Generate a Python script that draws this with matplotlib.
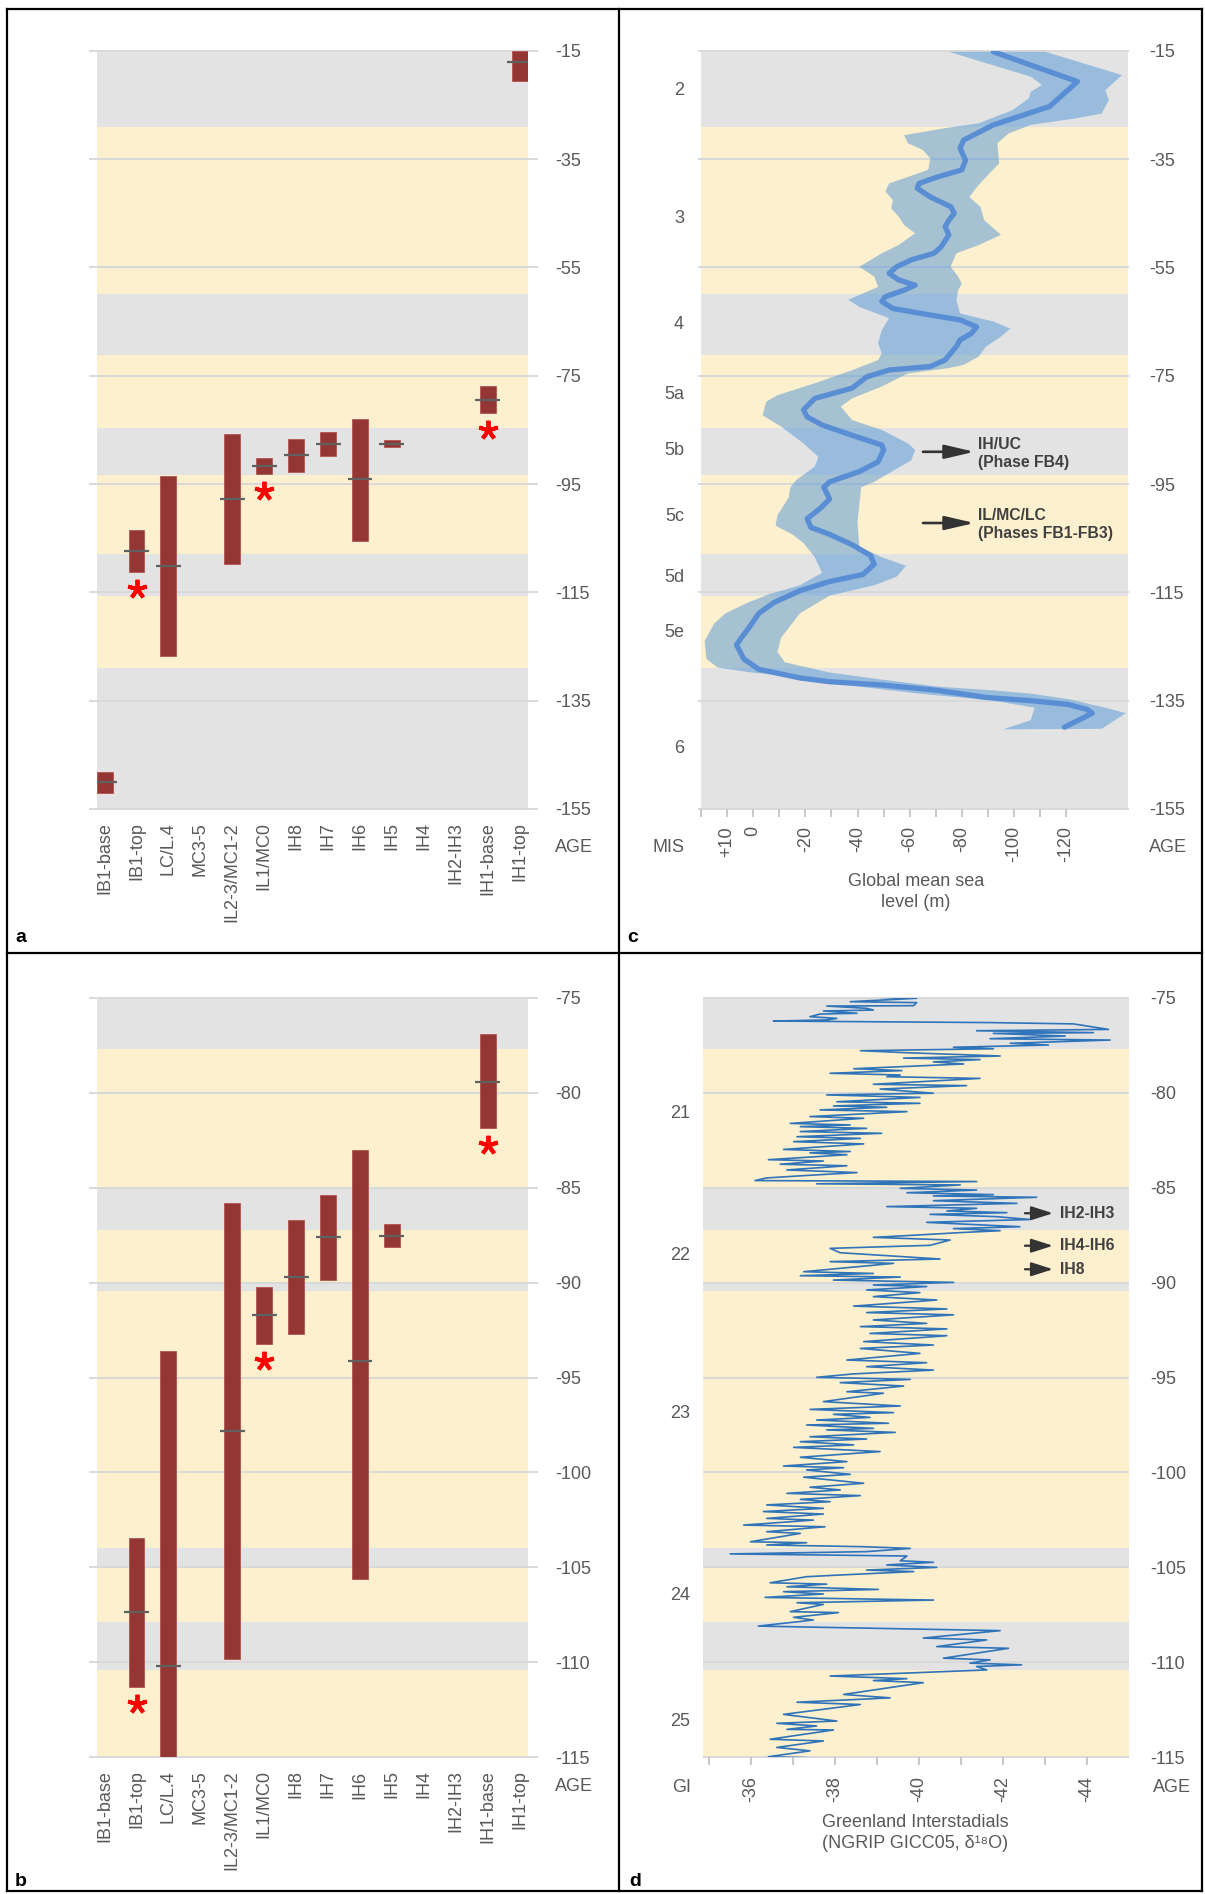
import matplotlib
matplotlib.use("Agg")
import matplotlib.pyplot as plt
import matplotlib.transforms as mtransforms
from matplotlib.lines import Line2D
import numpy as np

plt.rcParams['font.family'] = ['Liberation Sans', 'DejaVu Sans']

W, H = 1205, 1894
GRAY = "#E4E3E4"
CREAM = "#FDF0CE"
GRID = "#D9D9D9"
TXT = "#595959"
DARK = "#404040"
BAR = "#943634"

# ---- panels a / b : dated units (ka) ----
categories = ['IB1-base', 'IB1-top', 'LC/L.4', 'MC3-5', 'IL2-3/MC1-2', 'IL1/MC0', 'IH8',
              'IH7', 'IH6', 'IH5', 'IH4', 'IH2-IH3', 'IH1-base', 'IH1-top']
age_young = [-148.1, -103.45, -93.6, np.nan, -85.8, -90.22, -86.68, -85.4, -83.04, -86.93,
             np.nan, np.nan, -76.93, -15.0]
age_old = [-152.1, -111.28, -126.8, np.nan, -109.8, -93.24, -92.7, -89.85, -105.6, -88.15,
           np.nan, np.nan, -81.87, -20.6]
age_mid = [-150.1, -107.36, -110.2, np.nan, -97.82, -91.73, -89.69, -87.62, -94.14, -87.55,
           np.nan, np.nan, -79.42, -17.15]
flagged = [False, True, False, False, False, True, False, False, False, False,
           False, False, True, False]

# background stages (alternating grey / cream, starting grey)
mis_edges = [-15, -29.0, -60.0, -71.1, -84.6, -93.25, -107.9, -115.7, -129.0, -155]
gi_edges = [-75, -77.7, -85.0, -87.25, -89.95, -90.45, -104.0, -105.0, -107.9, -110.4, -115]

# ---- panel c : global mean sea level ----
mis_labels = ['2', '3', '4', '5a', '5b', '5c', '5d', '5e', '6']
mis_label_age = [-22.4, -45.9, -65.6, -78.4, -88.9, -101.0, -112.2, -122.4, -143.9]

sl_age = [-15.2, -20.7, -25.3, -28.7, -31.5, -33.0, -35.2, -37.0, -38.3, -39.5,
          -40.4, -42.0, -43.8, -45.0, -46.3, -47.5, -49.0, -51.2, -52.4, -53.6,
          -54.9, -56.1, -57.3, -58.3, -59.2, -60.4, -61.3, -62.6, -63.8, -64.7,
          -66.0, -67.2, -68.4, -69.6, -72.1, -73.3, -73.95, -75.2, -77.3, -79.2,
          -81.3, -82.6, -84.1, -86.0, -87.8, -88.7, -90.9, -92.7, -94.6, -95.6,
          -97.8, -99.5, -101.4, -103.0, -104.3, -106.2, -108.2, -109.8, -111.7, -113.0,
          -114.7, -116.9, -118.9, -121.4, -123.7, -124.7, -127.3, -129.2, -130.8, -131.5,
          -132.1, -133.1, -134.4, -135.0, -135.7, -136.6, -137.3, -138.2, -139.9]
sl_mean = [-92.1, -124.3, -113.6, -92.1, -80.7, -79.3, -81.4, -80.0, -70.7, -63.6,
           -62.9, -67.9, -75.7, -77.1, -75.0, -73.6, -75.0, -72.1, -69.3, -60.7,
           -55.0, -52.1, -55.7, -62.1, -57.9, -50.7, -49.3, -53.6, -67.9, -79.3,
           -85.7, -83.6, -79.3, -77.9, -73.6, -67.9, -52.1, -43.6, -37.9, -23.6,
           -19.3, -20.7, -26.4, -37.9, -49.3, -50.0, -47.9, -40.7, -29.3, -27.1,
           -29.3, -25.7, -20.7, -22.1, -29.3, -37.9, -45.0, -46.4, -42.1, -29.3,
           -17.9, -7.9, -2.1, 1.4, 5.0, 6.4, 3.6, -2.1, -17.9, -29.3,
           -49.3, -70.7, -89.3, -106.4, -120.7, -127.9, -130.0, -126.4, -119.3]

env_hi_age = [-15.2, -19.8, -21.3, -22.6, -23.8, -26.0, -28.4, -29.3, -30.6, -32.1,
              -33.3, -34.9, -37.0, -38.3, -39.5, -41.0, -42.6, -44.1, -45.6, -47.2,
              -48.7, -50.9, -52.4, -54.9, -56.7, -58.6, -59.8, -61.0, -62.3, -64.4,
              -66.6, -69.0, -70.9, -72.1, -74.0, -76.4, -78.6, -79.8, -82.3, -84.4,
              -87.5, -90.0, -91.8, -94.3, -95.6, -97.5, -100.8, -102.7, -104.3, -105.9,
              -108.5, -111.4, -113.7, -115.3, -116.9, -118.9, -120.8, -124.0, -127.3, -128.9,
              -129.8, -130.8, -132.1, -133.7, -135.0, -136.3, -138.6, -140.3]
env_hi_sl = [-75.0, -106.4, -110.7, -106.4, -105.7, -99.3, -86.4, -73.6, -57.9, -59.3,
             -65.0, -67.9, -67.1, -59.3, -52.1, -50.7, -53.6, -52.9, -55.7, -57.9,
             -62.1, -55.7, -49.3, -40.7, -46.4, -47.9, -42.1, -36.4, -40.7, -52.1,
             -49.3, -47.9, -49.3, -47.9, -37.9, -23.6, -9.3, -5.0, -3.6, -10.7,
             -19.3, -25.0, -23.6, -16.4, -14.3, -13.6, -9.3, -8.6, -15.0, -19.3,
             -23.6, -26.4, -17.9, -6.4, 2.1, 10.7, 15.0, 18.6, 17.9, 13.6,
             0.7, -20.7, -35.0, -63.6, -92.1, -107.9, -106.4, -95.7]
env_lo_age = [-15.2, -19.5, -22.3, -24.1, -26.6, -27.5, -28.7, -30.3, -32.1, -35.8,
              -37.6, -39.8, -42.0, -43.8, -46.3, -49.0, -50.9, -52.4, -54.9, -56.7,
              -58.0, -59.2, -61.0, -63.5, -65.0, -66.3, -67.8, -69.6, -71.5, -73.0,
              -73.6, -74.6, -77.0, -79.2, -80.7, -83.2, -85.0, -87.5, -88.7, -90.6,
              -93.0, -94.6, -95.6, -98.8, -102.0, -106.6, -108.5, -110.1, -112.1, -113.7,
              -115.6, -118.9, -123.4, -126.0, -127.9, -129.8, -131.1, -132.4, -133.1, -133.7,
              -134.7, -136.3, -137.3, -140.2]
env_lo_sl = [-112.1, -141.4, -135.0, -136.4, -133.6, -123.6, -106.4, -97.9, -93.6, -94.3,
             -90.7, -86.4, -82.9, -87.1, -88.6, -95.0, -86.4, -77.9, -75.7, -78.6,
             -80.0, -78.6, -77.9, -79.3, -92.1, -98.6, -95.0, -89.3, -86.4, -80.7,
             -75.0, -59.3, -49.3, -37.9, -33.6, -37.9, -49.3, -59.3, -62.1, -60.7,
             -52.1, -46.4, -41.4, -40.7, -40.0, -40.7, -49.3, -58.6, -55.0, -46.4,
             -29.3, -17.9, -10.7, -9.3, -12.1, -29.3, -49.3, -70.7, -92.1, -106.4,
             -120.7, -135.0, -142.9, -133.6]

sl_ticks = [20, 10, 0, -10, -20, -30, -40, -50, -60, -70, -80, -90, -100, -110, -120]
sl_ticklabels = ['', '+10', '0', '', '-20', '', '-40', '', '-60', '', '-80', '', '-100', '', '-120']

# ---- panel d : NGRIP d18O ----
gi_labels = ['21', '22', '23', '24', '25']
gi_label_age = [-81.1, -88.6, -96.9, -106.5, -113.1]

gi_age = [-74.91, -74.98, -75.03, -75.21, -75.26, -75.42, -75.44, -75.56, -75.65, -75.70,
          -75.82, -75.86, -76.00, -76.09, -76.17, -76.23, -76.31, -76.38, -76.67, -76.74,
          -76.84, -76.88, -77.02, -77.16, -77.23, -77.40, -77.49, -77.61, -77.69, -77.79,
          -77.89, -78.07, -78.18, -78.26, -78.38, -78.49, -78.74, -78.84, -78.98, -79.07,
          -79.16, -79.25, -79.56, -79.63, -79.81, -80.03, -80.12, -80.25, -80.48, -80.56,
          -80.70, -80.77, -80.91, -81.00, -81.26, -81.35, -81.62, -81.70, -81.79, -81.88,
          -82.05, -82.14, -82.32, -82.41, -82.58, -82.70, -82.99, -83.10, -83.17, -83.27,
          -83.53, -83.60, -83.77, -83.85, -84.07, -84.21, -84.35, -84.49, -84.63, -84.68,
          -84.80, -84.86, -85.04, -85.13, -85.27, -85.37, -85.44, -85.51, -85.69, -85.83,
          -86.00, -86.09, -86.23, -86.32, -86.41, -86.53, -86.68, -86.83, -87.06, -87.16,
          -87.27, -87.37, -87.50, -87.62, -87.76, -88.04, -88.20, -88.43, -88.76, -88.90,
          -88.99, -89.43, -89.52, -89.64, -89.71, -89.87, -89.99, -90.13, -90.21, -90.39,
          -90.53, -90.74, -90.92, -91.24, -91.39, -91.58, -91.70, -91.97, -92.15, -92.32,
          -92.44, -92.68, -92.80, -93.11, -93.29, -93.47, -93.73, -94.08, -94.22, -94.43,
          -94.61, -94.81, -94.99, -95.10, -95.27, -95.45, -95.75, -95.83, -96.27, -96.50,
          -96.68, -96.85, -96.94, -97.10, -97.24, -97.41, -97.50, -97.68, -97.76, -97.89,
          -98.12, -98.24, -98.38, -98.55, -98.68, -98.90, -99.20, -99.43, -99.66, -99.75,
          -99.87, -100.10, -100.25, -100.57, -100.78, -100.92, -101.10, -101.22, -101.42, -101.54,
          -101.71, -101.89, -102.06, -102.19, -102.42, -102.51, -102.77, -102.86, -103.12, -103.21,
          -103.65, -103.70, -103.82, -103.91, -104.00, -104.17, -104.29, -104.40, -104.65, -104.73,
          -104.87, -105.00, -105.14, -105.22, -105.40, -105.49, -105.81, -105.88, -106.02, -106.16,
          -106.28, -106.40, -106.58, -106.72, -106.86, -106.95, -107.33, -107.38, -107.63, -107.77,
          -108.09, -108.14, -108.26, -108.33, -108.72, -108.82, -109.17, -109.26, -109.78, -109.87,
          -110.04, -110.13, -110.22, -110.40, -110.72, -110.86, -110.96, -111.07, -111.69, -111.87,
          -112.10, -112.22, -112.74, -113.09, -113.21, -113.35, -113.53, -113.56, -114.05, -114.14,
          -114.48, -114.66, -114.97, -115.04]
gi_d18o = [-39.72, -39.08, -39.95, -38.37, -39.95, -39.88, -37.81, -38.76, -38.92, -37.73,
           -38.53, -37.65, -37.41, -38.05, -37.81, -36.54, -41.70, -43.69, -44.52, -41.38,
           -44.16, -41.78, -43.49, -41.70, -44.56, -42.18, -43.09, -40.83, -41.78, -38.61,
           -39.64, -41.94, -39.64, -41.46, -40.35, -41.07, -38.45, -39.60, -37.89, -39.56,
           -39.24, -41.46, -38.92, -41.14, -39.08, -40.35, -37.81, -40.03, -38.05, -40.03,
           -37.97, -39.24, -37.65, -39.72, -37.41, -38.69, -36.94, -38.37, -37.18, -38.76,
           -37.18, -39.12, -37.10, -38.61, -37.02, -38.69, -36.78, -38.37, -37.41, -38.29,
           -36.42, -37.73, -36.70, -38.29, -36.86, -38.53, -37.41, -36.38, -36.10, -41.38,
           -37.57, -40.99, -39.56, -41.38, -39.72, -41.78, -40.35, -42.81, -40.35, -42.34,
           -39.24, -41.38, -40.67, -42.10, -40.27, -41.86, -42.65, -40.19, -42.41, -40.83,
           -41.94, -40.99, -39.95, -38.92, -40.75, -40.27, -37.89, -38.13, -40.51, -37.89,
           -39.40, -37.26, -38.92, -37.18, -39.56, -37.97, -40.83, -38.92, -40.19, -38.76,
           -40.03, -38.92, -40.43, -38.45, -40.67, -38.76, -40.83, -38.92, -40.19, -38.61,
           -40.67, -38.84, -40.67, -38.69, -40.35, -38.61, -40.03, -38.29, -40.19, -38.76,
           -40.35, -38.45, -37.57, -39.80, -38.13, -39.64, -38.29, -39.16, -37.73, -39.56,
           -37.41, -39.40, -37.97, -38.84, -37.57, -39.28, -37.33, -38.92, -37.81, -39.44,
           -37.41, -38.76, -37.18, -38.45, -37.02, -39.08, -37.18, -38.29, -36.78, -38.21,
           -37.33, -38.37, -37.26, -38.69, -37.41, -38.13, -36.86, -38.61, -37.18, -37.89,
           -36.38, -37.73, -36.30, -37.73, -36.38, -37.49, -35.83, -37.77, -36.38, -37.18,
           -35.99, -37.33, -36.38, -38.69, -39.80, -38.76, -35.51, -39.72, -39.56, -40.35,
           -39.24, -40.43, -38.76, -39.88, -38.13, -37.33, -36.46, -37.81, -36.86, -39.04,
           -36.78, -37.73, -36.34, -40.35, -37.10, -37.73, -36.94, -38.09, -37.02, -37.49,
           -36.18, -37.33, -40.27, -41.94, -40.11, -41.62, -40.43, -42.14, -40.59, -41.70,
           -41.22, -42.45, -41.38, -41.62, -37.89, -39.72, -38.92, -40.11, -38.21, -39.32,
           -37.10, -38.61, -36.78, -38.05, -36.62, -37.57, -36.86, -37.97, -36.46, -37.73,
           -36.62, -37.41, -36.42, -37.65]


def px_rect(left, right, top, bottom):
    return [left / W, 1 - bottom / H, (right - left) / W, (bottom - top) / H]


def fig_text(fig, x, y, s, **kw):
    fig.text(x / W, 1 - y / H, s, **kw)


def draw_background(ax, edges, yticks, grid_ext, label_pad):
    for i in range(len(edges) - 1):
        ax.axhspan(edges[i + 1], edges[i], color=GRAY if i % 2 == 0 else CREAM, lw=0, zorder=0)
    trans = mtransforms.blended_transform_factory(ax.transAxes, ax.transData)
    for y in yticks:
        ax.plot([grid_ext[0], grid_ext[1]], [y, y], transform=trans, color=GRID, lw=1.4,
                zorder=1, clip_on=False, solid_capstyle='butt')
    ax.set_ylim(edges[-1], edges[0])
    ax.set_yticks(yticks)
    ax.set_yticklabels([str(t) for t in yticks])
    ax.yaxis.tick_right()
    ax.tick_params(axis='y', length=0, pad=label_pad, labelsize=13, labelcolor=TXT)
    for s in ax.spines.values():
        s.set_visible(False)
    ax.set_facecolor('none')


def draw_units(ax, fig):
    x = np.arange(len(categories))
    young = np.array(age_young)
    old = np.array(age_old)
    ax.bar(x, young - old, bottom=old, width=0.5, color=BAR, edgecolor='#B4534F',
           lw=0.6, zorder=2)
    ax.hlines(age_mid, x - 0.39, x + 0.39, color='#606060', lw=1.6, zorder=3)
    ax.set_xlim(-0.25, len(categories) - 0.75)
    ax.set_xticks(x)
    ax.set_xticklabels(categories, rotation=90)
    ax.tick_params(axis='x', length=0, pad=9.5, labelsize=13, labelcolor=TXT)
    star = mtransforms.offset_copy(ax.transData, fig=fig, x=0, y=-17, units='dots')
    for xi, o, f in zip(x, old, flagged):
        if f:
            ax.plot(xi, o, marker=(5, 2, 0), ms=14, mew=2.8, color='#FF0000',
                    transform=star, zorder=4, clip_on=False)


fig = plt.figure(figsize=(W / 100, H / 100), dpi=100)

# panel a
ax_a = fig.add_axes(px_rect(96.6, 527.6, 50.7, 809.0))
draw_background(ax_a, mis_edges, list(range(-15, -156, -20)), (-0.0176, 1.024), 20)
draw_units(ax_a, fig)

# panel b
ax_b = fig.add_axes(px_rect(96.6, 527.6, 997.7, 1757.3))
draw_background(ax_b, gi_edges, list(range(-75, -116, -5)), (-0.0176, 1.024), 20)
draw_units(ax_b, fig)

# panel c
ax_c = fig.add_axes(px_rect(701, 1127.5, 50.7, 809.0))
draw_background(ax_c, mis_edges, list(range(-15, -156, -20)), (-0.007, 1.0035), 15.5)
ax_c.fill(np.r_[env_hi_sl, env_lo_sl[::-1]], np.r_[env_hi_age, env_lo_age[::-1]],
          color='#5096D7', alpha=0.5, lw=0, zorder=2)
ax_c.plot(sl_mean, sl_age, color='#5A8ED4', lw=3.8, zorder=3, solid_capstyle='round',
          solid_joinstyle='round')
ax_c.set_xlim(20, -143.5)
ax_c.set_xticks(sl_ticks)
ax_c.set_xticklabels(sl_ticklabels, rotation=90)
ax_c.tick_params(axis='x', direction='out', length=5.8, width=1.2, color='#BFBFBF',
                 pad=6.5, labelsize=13, labelcolor=TXT)
lab_tr = mtransforms.blended_transform_factory(ax_c.transAxes, ax_c.transData)
for lab, yy in zip(mis_labels, mis_label_age):
    ax_c.text(-0.04, yy, lab, transform=lab_tr, ha='right', va='center', fontsize=13, color=TXT)
for yy, txt in [(-89.05, 'IH/UC\n(Phase FB4)'), (-102.2, 'IL/MC/LC\n(Phases FB1-FB3)')]:
    ax_c.annotate('', xy=(-84.8, yy), xytext=(-65.1, yy),
                  arrowprops=dict(arrowstyle='-|>,head_length=1.5,head_width=0.35',
                                  mutation_scale=12, color='#333333', lw=1.9,
                                  shrinkA=0, shrinkB=0), zorder=4)
    ax_c.text(-86.2, yy - 0.3, txt, ha='left', va='center', fontsize=11.3,
              fontweight='bold', color=DARK, linespacing=1.25, zorder=4)

# panel d
ax_d = fig.add_axes(px_rect(702.5, 1128.6, 997.7, 1757.3))
draw_background(ax_d, gi_edges, list(range(-75, -116, -5)), (0.0, 1.0), 15.4)
ax_d.plot(gi_d18o, gi_age, color='#2F73B8', lw=1.2, zorder=3)
ax_d.set_xlim(-34.85, -45.0)
ax_d.set_xticks(list(range(-35, -45, -1)))
ax_d.set_xticklabels(['' if t % 2 else str(t) for t in range(-35, -45, -1)], rotation=90)
ax_d.tick_params(axis='x', direction='out', length=5.8, width=1.2, color='#BFBFBF',
                 pad=7.5, labelsize=13, labelcolor=TXT)
lab_tr = mtransforms.blended_transform_factory(ax_d.transAxes, ax_d.transData)
for lab, yy in zip(gi_labels, gi_label_age):
    ax_d.text(-0.029, yy, lab, transform=lab_tr, ha='right', va='center', fontsize=13, color=TXT)
for yy, txt in [(-86.35, 'IH2-IH3'), (-88.06, 'IH4-IH6'), (-89.3, 'IH8')]:
    ax_d.annotate('', xy=(-43.2, yy), xytext=(-42.53, yy),
                  arrowprops=dict(arrowstyle='-|>,head_length=1.1,head_width=0.35',
                                  mutation_scale=12, color='#333333', lw=1.6,
                                  shrinkA=0, shrinkB=0), zorder=4)
    ax_d.text(-43.37, yy, txt, ha='left', va='center', fontsize=11.3,
              fontweight='bold', color=DARK, zorder=4)

# axis captions
for x, y, s in [(574, 847, 'AGE'), (574, 1786.7, 'AGE'), (1168, 848, 'AGE'),
                (1172, 1787, 'AGE'), (668, 848, 'MIS'), (682, 1787, 'GI')]:
    fig_text(fig, x, y, s, ha='center', va='center', fontsize=13, color=TXT)
fig_text(fig, 916, 892, 'Global mean sea\nlevel (m)', ha='center', va='center',
         fontsize=13, color=TXT, linespacing=1.35)
fig_text(fig, 915, 1833, 'Greenland Interstadials\n(NGRIP GICC05, δ¹⁸O)', ha='center',
         va='center', fontsize=13, color=TXT, linespacing=1.35)

# panel letters
for x, y, s in [(20.6, 937, 'a'), (633, 937, 'c'), (20.6, 1881, 'b'), (635, 1881, 'd')]:
    fig_text(fig, x, y, s, ha='center', va='center', fontsize=14, fontweight='bold',
             color='black')

# frame lines
frame = [((7, 9.5), (1202, 9.5)), ((7, 1891), (1202, 1891)), ((7, 9.5), (7, 1891)),
         ((1202, 9.5), (1202, 1891)), ((619.5, 9.5), (619.5, 1891)), ((7, 953), (1202, 953))]
for (x0, y0), (x1, y1) in frame:
    fig.add_artist(Line2D([x0 / W, x1 / W], [1 - y0 / H, 1 - y1 / H], transform=fig.transFigure,
                          color='black', lw=1.6))

fig.savefig('out.png', dpi=100, facecolor='white')
